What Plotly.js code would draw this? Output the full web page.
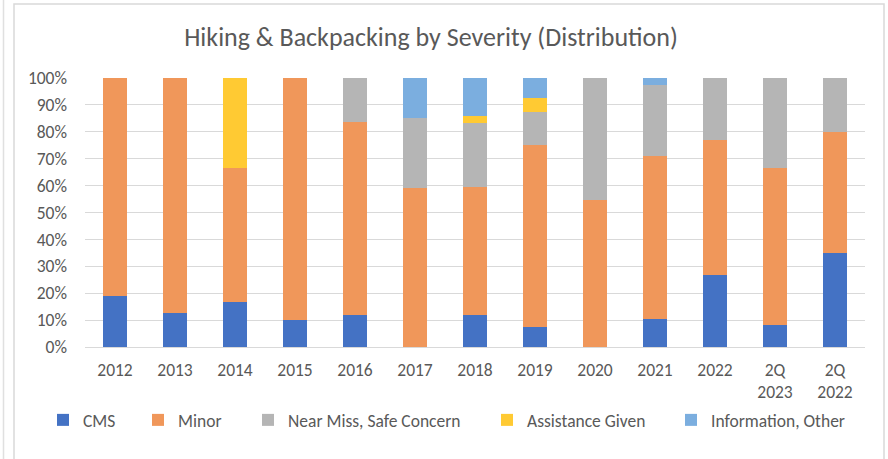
<!DOCTYPE html>
<html>
<head>
<meta charset="utf-8">
<script src="https://cdn.plot.ly/plotly-3.0.1.min.js"></script>
<style>html,body{margin:0;padding:0;background:#fff;}#chart{width:888px;height:459px;}</style>
</head>
<body>
<div id="chart"></div>
<script>
const categories = ["2012","2013","2014","2015","2016","2017","2018","2019","2020","2021","2022","2Q<br>2023","2Q<br>2022"];
const cms        = [19.0, 12.5, 16.7, 10.0, 11.9, 0,    11.9, 7.5,  0,    10.4, 26.9, 8.3,  35.0];
const minor      = [81.0, 87.5, 50.0, 90.0, 71.9, 59.1, 47.6, 67.5, 54.5, 60.5, 50.0, 58.4, 45.0];
const nearMiss   = [0,    0,    0,    0,    16.2, 26.2, 23.8, 12.5, 45.5, 26.4, 23.1, 33.3, 20.0];
const assistance = [0,    0,    33.3, 0,    0,    0,    2.4,  5.0,  0,    0,    0,    0,    0];
const infoOther  = [0,    0,    0,    0,    0,    14.7, 14.3, 7.5,  0,    2.7,  0,    0,    0];

const seriesNames = ["CMS","Minor","Near Miss, Safe Concern","Assistance Given","Information, Other"];
const seriesValues = [cms, minor, nearMiss, assistance, infoOther];
const colors = ["#4472C4","#F0975A","#B5B5B5","#FFCA33","#7BAEDF"];
const legendIds = ["legend","legend2","legend3","legend4","legend5"];

const FONT = "Carlito, Lato, 'Open Sans', sans-serif";
const traces = seriesNames.map((n,i)=>({
  type:'bar', name:n, x:categories, y:seriesValues[i],
  marker:{color:colors[i], line:{width:0}}, legend:legendIds[i],
  hoverinfo:'x+y+name'
}));

// plot area pixel box
const W=888,H=459,L=85,R=865,T=78,B=347;
const px = v => (v-L)/(R-L);
const py = v => (B-v)/(B-T);

// reference legend square left edges (px)
const legendX = [63,158,268,507,691];

const layout = {
  width:W, height:H,
  margin:{l:L, r:W-R, t:T, b:H-B},
  paper_bgcolor:'#fff', plot_bgcolor:'#fff',
  barmode:'stack', bargap:0.6,
  font:{family:FONT, color:'#595959', size:17.5},
  title:{text:'Hiking & Backpacking by Severity (Distribution)', font:{family:FONT, size:26, color:'#595959'},
         x:px(431), xref:'paper', xanchor:'center', y:1-37/H, yanchor:'middle'},
  xaxis:{type:'category', tickfont:{size:17.5, color:'#595959'}, showgrid:false, zeroline:false,
         showline:false, ticks:'', ticklabelstandoff:10},
  yaxis:{range:[0,100], dtick:10, tick0:0, ticksuffix:'%', showgrid:true, gridcolor:'#D9D9D9', gridwidth:1,
         zeroline:true, zerolinecolor:'#D9D9D9', zerolinewidth:1, showline:false, ticks:'',
         tickfont:{size:17.5, color:'#595959'}, ticklabelstandoff:17, fixedrange:true},
  showlegend:true,
  shapes:[
    {type:'rect', xref:'paper', yref:'paper', x0:px(14), x1:px(884), y0:py(470), y1:py(4),
     line:{color:'#D9D9D9', width:1.5}, fillcolor:'rgba(0,0,0,0)', layer:'below'},
    {type:'line', xref:'paper', yref:'paper', x0:px(3.5), x1:px(3.5), y0:py(470), y1:py(-10),
     line:{color:'#E0E0E0', width:1.5}}
  ]
};
legendIds.forEach((id,i)=>{
  layout[id] = {orientation:'h', x:px(legendX[i]-20), xanchor:'left', y:py(420), yanchor:'middle',
                font:{size:17.5, color:'#595959'}, itemwidth:30, bgcolor:'rgba(0,0,0,0)'};
});
Plotly.newPlot('chart', traces, layout, {displayModeBar:false, staticPlot:true});
</script>
</body>
</html>
